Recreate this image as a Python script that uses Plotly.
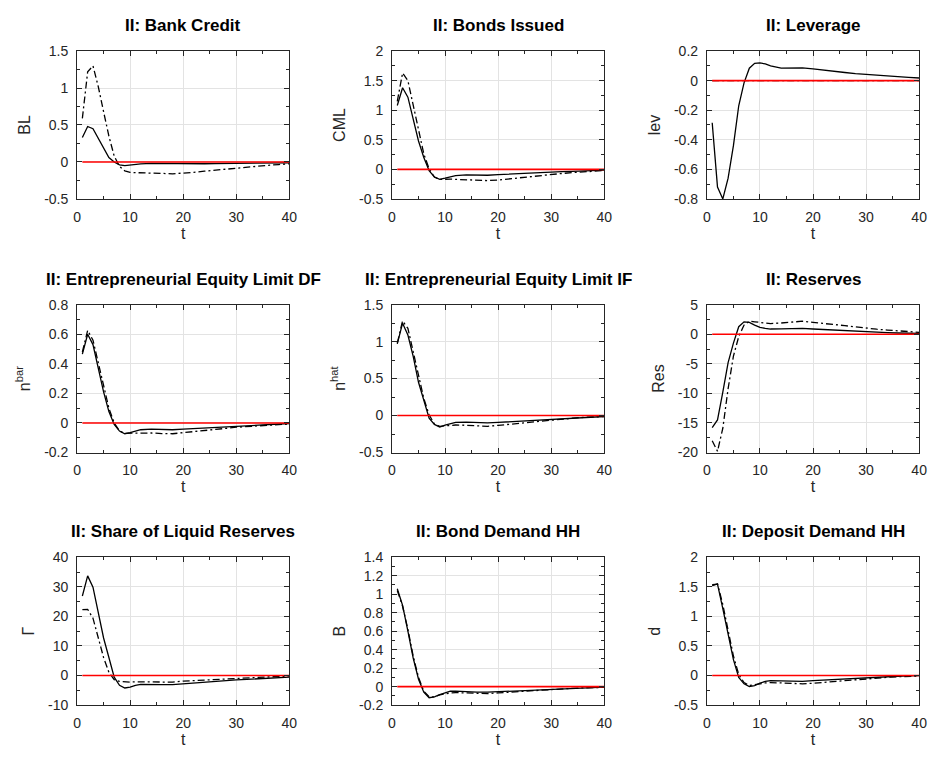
import plotly.graph_objects as go
from plotly.subplots import make_subplots

# ---------------- data ----------------
T = [1, 2, 3, 4, 5, 6, 7, 8, 9, 10, 11, 12, 14, 16, 18, 20, 22, 24, 26, 28, 30, 32, 34, 36, 38, 40]

titles = ["II: Bank Credit", "II: Bonds Issued", "II: Leverage",
          "II: Entrepreneurial Equity Limit DF", "II: Entrepreneurial Equity Limit IF", "II: Reserves",
          "II: Share of Liquid Reserves", "II: Bond Demand HH", "II: Deposit Demand HH"]
ylabels = ["BL", "CML", "lev", "n<sup>bar</sup>", "n<sup>hat</sup>", "Res", "Γ", "B", "d"]

BL_solid = [0.33, 0.48, 0.45, 0.32, 0.17, 0.06, 0.0, -0.04, -0.05, -0.04, -0.03, -0.025, -0.02, -0.022, -0.025, -0.026, -0.025, -0.024, -0.022, -0.02, -0.018, -0.017, -0.015, -0.014, -0.013, -0.012]
BL_dash = [0.59, 1.22, 1.30, 1.02, 0.68, 0.35, 0.08, -0.06, -0.12, -0.14, -0.145, -0.145, -0.15, -0.155, -0.16, -0.155, -0.14, -0.125, -0.11, -0.095, -0.08, -0.068, -0.055, -0.045, -0.035, -0.025]

CML_solid = [1.08, 1.38, 1.22, 0.86, 0.48, 0.2, -0.02, -0.13, -0.17, -0.15, -0.125, -0.105, -0.095, -0.1, -0.1, -0.09, -0.08, -0.07, -0.065, -0.055, -0.05, -0.04, -0.033, -0.025, -0.018, -0.012]
CML_dash = [1.15, 1.63, 1.5, 1.08, 0.64, 0.26, 0.01, -0.13, -0.17, -0.165, -0.165, -0.17, -0.175, -0.185, -0.19, -0.18, -0.16, -0.145, -0.125, -0.105, -0.085, -0.07, -0.055, -0.04, -0.03, -0.02]

lev_solid = [-0.285, -0.72, -0.80, -0.66, -0.44, -0.17, -0.015, 0.084, 0.117, 0.12, 0.113, 0.1, 0.085, 0.085, 0.086, 0.08, 0.07, 0.062, 0.055, 0.048, 0.042, 0.037, 0.031, 0.026, 0.022, 0.018]
lev_dash = [0.0] * 26

nbar_solid = [0.465, 0.60, 0.53, 0.365, 0.21, 0.077, -0.01, -0.055, -0.073, -0.066, -0.055, -0.046, -0.042, -0.045, -0.046, -0.042, -0.038, -0.034, -0.03, -0.026, -0.022, -0.018, -0.014, -0.01, -0.007, -0.004]
nbar_dash = [0.48, 0.626, 0.56, 0.41, 0.24, 0.1, 0.0, -0.055, -0.07, -0.07, -0.067, -0.066, -0.068, -0.072, -0.073, -0.066, -0.06, -0.052, -0.045, -0.037, -0.029, -0.024, -0.019, -0.014, -0.01, -0.007]

nhat_solid = [0.97, 1.25, 1.09, 0.8, 0.45, 0.19, -0.035, -0.12, -0.155, -0.13, -0.11, -0.093, -0.088, -0.096, -0.1, -0.093, -0.085, -0.077, -0.07, -0.062, -0.053, -0.045, -0.036, -0.027, -0.02, -0.013]
nhat_dash = [0.98, 1.28, 1.18, 0.87, 0.52, 0.23, 0.01, -0.115, -0.146, -0.137, -0.13, -0.128, -0.132, -0.142, -0.146, -0.133, -0.118, -0.103, -0.09, -0.075, -0.058, -0.048, -0.036, -0.025, -0.018, -0.013]

Res_solid = [-15.8, -14.5, -9.8, -4.8, -1.5, 1.27, 2.1, 2.0, 1.55, 1.16, 1.0, 0.88, 0.92, 1.02, 1.0, 0.88, 0.78, 0.68, 0.58, 0.48, 0.39, 0.32, 0.26, 0.21, 0.18, 0.16]
Res_dash = [-18.0, -19.8, -15.9, -9.2, -3.7, -0.4, 1.55, 2.2, 2.1, 2.0, 1.9, 1.8, 1.9, 2.1, 2.2, 2.0, 1.85, 1.65, 1.45, 1.25, 1.0, 0.85, 0.7, 0.55, 0.42, 0.33]

Gam_solid = [26.9, 33.7, 29.9, 21.6, 12.7, 6.1, -0.55, -3.3, -4.2, -3.9, -3.3, -3.0, -2.9, -3.05, -3.1, -2.8, -2.55, -2.3, -2.05, -1.8, -1.5, -1.3, -1.1, -0.9, -0.7, -0.55]
Gam_dash = [22.3, 22.4, 19.4, 12.7, 6.1, 1.1, -1.4, -2.0, -2.2, -2.2, -2.15, -2.1, -2.15, -2.2, -2.2, -1.9, -1.7, -1.5, -1.3, -1.1, -0.9, -0.75, -0.55, -0.4, -0.3, -0.2]

B_solid = [1.06, 0.88, 0.6, 0.31, 0.08, -0.06, -0.12, -0.11, -0.087, -0.065, -0.05, -0.048, -0.055, -0.06, -0.06, -0.055, -0.048, -0.042, -0.037, -0.032, -0.023, -0.019, -0.015, -0.01, -0.007, -0.005]
B_dash = [1.04, 0.87, 0.62, 0.33, 0.1, -0.05, -0.11, -0.11, -0.09, -0.075, -0.068, -0.065, -0.07, -0.075, -0.075, -0.068, -0.06, -0.052, -0.045, -0.038, -0.028, -0.023, -0.018, -0.013, -0.01, -0.008]

d_solid = [1.535, 1.545, 1.13, 0.69, 0.27, -0.03, -0.14, -0.185, -0.17, -0.13, -0.1, -0.085, -0.09, -0.1, -0.1, -0.085, -0.075, -0.065, -0.055, -0.045, -0.03, -0.024, -0.018, -0.012, -0.006, -0.002]
d_dash = [1.52, 1.55, 1.2, 0.76, 0.33, 0.02, -0.12, -0.17, -0.16, -0.14, -0.125, -0.12, -0.125, -0.135, -0.14, -0.13, -0.115, -0.1, -0.085, -0.07, -0.05, -0.04, -0.03, -0.02, -0.014, -0.01]

solid_series = [BL_solid, CML_solid, lev_solid, nbar_solid, nhat_solid, Res_solid, Gam_solid, B_solid, d_solid]
dash_series = [BL_dash, CML_dash, lev_dash, nbar_dash, nhat_dash, Res_dash, Gam_dash, B_dash, d_dash]

x_ticks = [0, 10, 20, 30, 40]
y_ticks = [
    [-0.5, 0, 0.5, 1, 1.5],
    [-0.5, 0, 0.5, 1, 1.5, 2],
    [-0.8, -0.6, -0.4, -0.2, 0, 0.2],
    [-0.2, 0, 0.2, 0.4, 0.6, 0.8],
    [-0.5, 0, 0.5, 1, 1.5],
    [-20, -15, -10, -5, 0, 5],
    [-10, 0, 10, 20, 30, 40],
    [-0.2, 0, 0.2, 0.4, 0.6, 0.8, 1, 1.2, 1.4],
    [-0.5, 0, 0.5, 1, 1.5, 2],
]
zero_line = [0.0, 0.0]
zero_t = [1, 40]

# ---------------- layout ----------------
W, H = 938, 765
col_left = [74, 393, 712]
col_w = 215
row_top = [44, 303, 561]
row_h = 151

FONT = "Liberation Sans, Arial, Helvetica, sans-serif"
AX_COL = "#262626"
GRID_COL = "#e3e3e3"


def fmt(v):
    return "%g" % v


fig = make_subplots(rows=3, cols=3)

for i in range(9):
    r, c = i // 3 + 1, i % 3 + 1
    fig.add_trace(go.Scatter(x=T, y=solid_series[i], mode="lines",
                             line=dict(color="black", width=1.3), showlegend=False,
                             hoverinfo="skip"), row=r, col=c)
    fig.add_trace(go.Scatter(x=T, y=dash_series[i], mode="lines",
                             line=dict(color="black", width=1.3, dash="7px,3px,2px,3px"),
                             showlegend=False, hoverinfo="skip"), row=r, col=c)
    fig.add_trace(go.Scatter(x=zero_t, y=zero_line, mode="lines",
                             line=dict(color="#ff0000", width=1.6), showlegend=False,
                             hoverinfo="skip"), row=r, col=c)

annotations = []
for i in range(9):
    ri, ci = i // 3, i % 3
    x0 = col_left[ci] / W
    x1 = (col_left[ci] + col_w) / W
    y1 = 1 - row_top[ri] / H
    y0 = 1 - (row_top[ri] + row_h) / H
    yt = y_ticks[i]
    dy = yt[1] - yt[0]
    common = dict(
        showline=True, linecolor=AX_COL, linewidth=1, mirror="allticks",
        ticks="inside", ticklen=5, tickwidth=1, tickcolor=AX_COL,
        showgrid=True, gridcolor=GRID_COL, gridwidth=1, zeroline=False,
        tickfont=dict(family=FONT, size=14, color=AX_COL),
    )
    fig.update_xaxes(domain=[x0, x1], range=[0, 40], tickmode="array",
                     tickvals=x_ticks, ticktext=[fmt(v) for v in x_ticks],
                     minor=dict(tickmode="linear", tick0=0, dtick=5, ticks="inside",
                                ticklen=3, tickcolor=AX_COL, showgrid=False),
                     title=dict(text="t", font=dict(family=FONT, size=16, color=AX_COL), standoff=0),
                     ticklabelstandoff=5,
                     row=ri + 1, col=ci + 1, **common)
    fig.update_yaxes(domain=[y0, y1], range=[yt[0], yt[-1]], tickmode="array",
                     tickvals=yt, ticktext=[fmt(v) for v in yt],
                     minor=dict(tickmode="linear", tick0=0, dtick=dy / 2, ticks="inside",
                                ticklen=3, tickcolor=AX_COL, showgrid=False),
                     title=dict(text=ylabels[i], font=dict(family=FONT, size=16, color=AX_COL), standoff=9),
                     ticklabelstandoff=5,
                     row=ri + 1, col=ci + 1, **common)
    annotations.append(dict(
        text="<b>" + titles[i] + "</b>", xref="paper", yref="paper",
        x=(x0 + x1) / 2, y=y1, xanchor="center", yanchor="bottom", yshift=14,
        showarrow=False, font=dict(family=FONT, size=17, color="black")))

fig.update_layout(
    width=W, height=H, margin=dict(l=0, r=0, t=0, b=0),
    paper_bgcolor="white", plot_bgcolor="white",
    annotations=annotations, showlegend=False, hovermode=False,
)

fig.write_html("out.html", config={"displayModeBar": False},
               post_script="document.body.style.margin='0';document.body.style.overflow='hidden';")
